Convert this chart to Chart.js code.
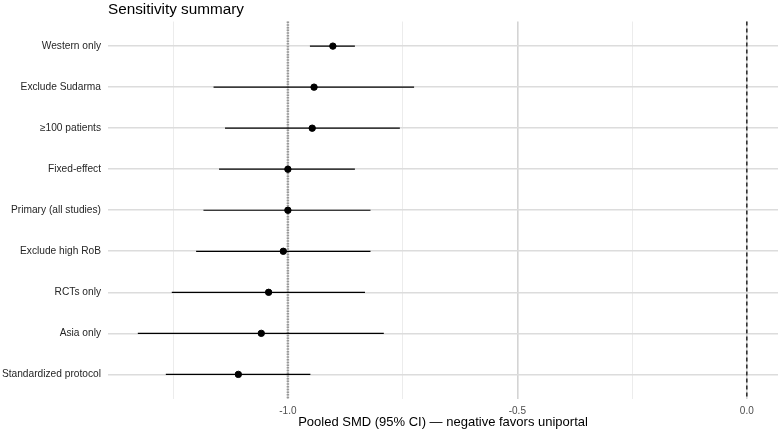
<!DOCTYPE html>
<html>
<head>
<meta charset="utf-8">
<script src="https://cdn.jsdelivr.net/npm/chart.js@4/dist/chart.umd.min.js"></script>
<style>
  html, body { margin: 0; padding: 0; background: #fff; overflow: hidden; }
  #wrap { width: 779px; height: 431px; position: relative; }
</style>
</head>
<body>
<div id="wrap"><canvas id="chart"></canvas></div>
<script>
const analyses = [
  "Western only",
  "Exclude Sudarma",
  "\u2265100 patients",
  "Fixed-effect",
  "Primary (all studies)",
  "Exclude high RoB",
  "RCTs only",
  "Asia only",
  "Standardized protocol",
];
const estimates = [-0.902, -0.943, -0.947, -1.0, -1.0, -1.01, -1.042, -1.058, -1.108];
const lower = [-0.952, -1.162, -1.137, -1.150, -1.184, -1.200, -1.253, -1.327, -1.266];
const upper = [-0.854, -0.725, -0.756, -0.854, -0.820, -0.820, -0.832, -0.791, -0.951];
const primaryEstimate = -1.0;
const nullEffect = 0;
const xTicks = [-1.25, -1.0, -0.75, -0.5, -0.25, 0];
const xLabelled = [-1.0, -0.5, 0];

const font = "'Liberation Sans', Arial, sans-serif";

// reference lines + CI whiskers, drawn under the points
const forestLines = {
  id: "forestLines",
  beforeDatasetsDraw(chart) {
    const { ctx, chartArea, scales } = chart;
    const x = scales.x, y = scales.y;
    ctx.save();

    // primary estimate (dotted)
    let px = x.getPixelForValue(primaryEstimate);
    ctx.strokeStyle = "#9a9a9a";
    ctx.lineWidth = 2.5;
    ctx.setLineDash([1.5, 1.2]);
    ctx.beginPath();
    ctx.moveTo(px, chartArea.top);
    ctx.lineTo(px, chartArea.bottom);
    ctx.stroke();

    // no effect (dashed)
    px = x.getPixelForValue(nullEffect);
    ctx.strokeStyle = "#333";
    ctx.lineWidth = 1.6;
    ctx.setLineDash([4, 3]);
    ctx.beginPath();
    ctx.moveTo(px, chartArea.top);
    ctx.lineTo(px, chartArea.bottom);
    ctx.stroke();

    // confidence intervals
    ctx.setLineDash([]);
    ctx.strokeStyle = "#000";
    ctx.lineWidth = 1.2;
    analyses.forEach((_, i) => {
      const py = y.getPixelForValue(i);
      ctx.beginPath();
      ctx.moveTo(x.getPixelForValue(lower[i]), py);
      ctx.lineTo(x.getPixelForValue(upper[i]), py);
      ctx.stroke();
    });
    ctx.restore();
  },
  afterDraw(chart) {
    const { ctx, chartArea } = chart;
    ctx.save();
    ctx.fillStyle = "#000";
    ctx.font = "15.3px " + font;
    ctx.textBaseline = "alphabetic";
    ctx.textAlign = "left";
    ctx.fillText("Sensitivity summary", chartArea.left, 14);
    ctx.restore();
  },
};

new Chart(document.getElementById("chart"), {
  type: "scatter",
  data: {
    datasets: [
      {
        data: estimates.map((v, i) => ({ x: v, y: i })),
        backgroundColor: "#000",
        borderColor: "#000",
        pointRadius: 3.2,
        pointHoverRadius: 3.2,
      },
    ],
  },
  options: {
    responsive: true,
    maintainAspectRatio: false,
    animation: false,
    layout: { autoPadding: false, padding: { top: 21.5, right: 1, bottom: 1, left: 0 } },
    plugins: {
      legend: { display: false },
      tooltip: { enabled: false },
      title: { display: false },
    },
    scales: {
      x: {
        type: "linear",
        min: -1.392,
        max: 0.068,
        afterBuildTicks: (scale) => {
          scale.ticks = xTicks.map((v) => ({ value: v }));
        },
        afterFit: (scale) => {
          scale.height = 31;
        },
        border: { display: false },
        grid: {
          drawTicks: false,
          color: (c) => (xLabelled.includes(c.tick.value) ? "#d4d4d4" : "#ececec"),
          lineWidth: (c) => (xLabelled.includes(c.tick.value) ? 1.6 : 1),
        },
        ticks: {
          padding: 6,
          color: "#4d4d4d",
          font: { family: font, size: 10 },
          callback: (v) => (xLabelled.includes(v) ? v.toFixed(1) : ""),
        },
        title: {
          display: true,
          text: "Pooled SMD (95% CI) \u2014 negative favors uniportal",
          color: "#000",
          font: { family: font, size: 13 },
          padding: { top: 0, bottom: 0 },
        },
      },
      y: {
        type: "linear",
        reverse: true,
        min: -0.6,
        max: 8.6,
        afterBuildTicks: (scale) => {
          scale.ticks = analyses.map((_, i) => ({ value: i }));
        },
        afterFit: (scale) => {
          scale.width = 108;
        },
        border: { display: false },
        grid: {
          drawTicks: false,
          color: "#dcdcdc",
          lineWidth: 1.6,
        },
        ticks: {
          padding: 7,
          color: "#262626",
          font: { family: font, size: 10.2 },
          callback: (v) => analyses[v],
        },
      },
    },
  },
  plugins: [forestLines],
});
</script>
</body>
</html>
